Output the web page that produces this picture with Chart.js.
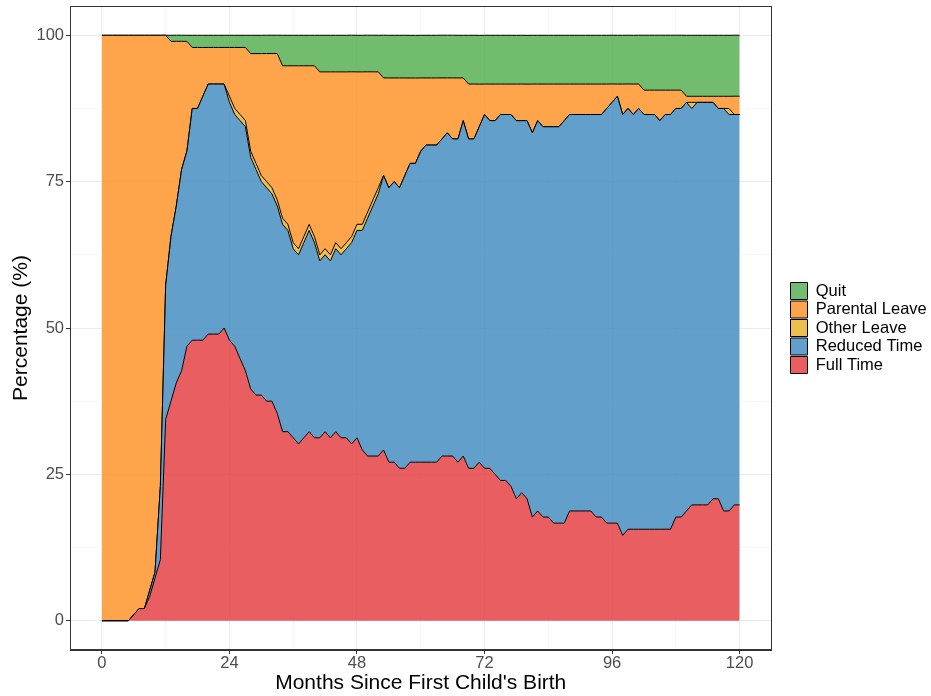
<!DOCTYPE html>
<html>
<head>
<meta charset="utf-8">
<title>Employment status after first birth</title>
<script src="https://cdn.jsdelivr.net/npm/chart.js@4"></script>
<style>
  html,body{margin:0;padding:0;background:#fff;}
  #wrap{width:931px;height:696px;}
</style>
</head>
<body>
<div id="wrap"><canvas id="chart" width="931" height="696"></canvas></div>
<script>
// months since first child's birth
const months = [
  0,1,2,3,4,5,6,7,8,9,10,11,12,13,14,15,16,17,18,19,
  20,21,22,23,24,25,26,27,28,29,30,31,32,33,34,35,36,37,38,39,
  40,41,42,43,44,45,46,47,48,49,50,51,52,53,54,55,56,57,58,59,
  60,61,62,63,64,65,66,67,68,69,70,71,72,73,74,75,76,77,78,79,
  80,81,82,83,84,85,86,87,88,89,90,91,92,93,94,95,96,97,98,99,
  100,101,102,103,104,105,106,107,108,109,110,111,112,113,114,115,116,117,118,119,120
];

// share of mothers in each state (%), one value per month
const fullTime = [
  0,0,0,0,0,0,1.04,2.08,2.08,4.17,
  7.29,10.42,34.38,37.5,40.63,42.71,46.88,47.92,47.92,47.92,
  48.96,48.96,48.96,50,47.92,46.88,44.79,42.71,39.58,38.54,
  38.54,37.5,37.5,35.42,32.29,32.29,31.25,30.21,31.25,32.29,
  31.25,31.25,32.29,31.25,32.29,31.25,31.25,30.21,31.25,29.17,
  28.13,28.13,28.13,29.17,27.08,27.08,26.04,26.04,27.08,27.08,
  27.08,27.08,27.08,27.08,28.13,28.13,28.13,27.08,28.13,26.04,
  26.04,27.08,26.04,26.04,25,23.96,23.96,22.92,20.83,21.88,
  20.83,17.71,18.75,17.71,17.71,16.67,16.67,16.67,18.75,18.75,
  18.75,18.75,18.75,17.71,17.71,16.67,16.67,16.67,14.58,15.63,
  15.63,15.63,15.63,15.63,15.63,15.63,15.63,15.63,17.71,17.71,
  18.75,19.79,19.79,19.79,19.79,20.83,20.83,18.75,18.75,19.79,
  19.79
];
const reducedTime = [
  0,0,0,0,0,0,0,0,0,1.04,
  1.04,12.5,22.92,28.13,30.21,34.38,33.33,39.58,39.58,41.67,
  42.71,42.71,42.71,41.67,40.63,39.58,40.63,41.67,39.58,38.54,
  36.46,36.46,35.42,35.42,35.42,34.38,32.29,32.29,33.33,34.38,
  33.33,30.21,30.21,30.21,31.25,31.25,32.29,34.38,35.42,37.5,
  40.63,42.71,44.79,46.88,46.88,47.92,47.92,50,51.04,51.04,
  53.13,54.17,54.17,54.17,54.17,55.21,54.17,55.21,57.29,56.25,
  56.25,57.29,60.42,59.38,60.42,62.5,62.5,63.54,64.58,63.54,
  64.58,65.63,66.67,66.67,66.67,67.71,67.71,68.75,67.71,67.71,
  67.71,67.71,67.71,68.75,68.75,70.83,71.88,72.92,71.88,71.88,
  70.83,71.88,70.83,70.83,70.83,69.79,70.83,70.83,69.79,69.79,
  69.79,67.71,68.75,68.75,68.75,67.71,66.67,68.75,67.71,66.67,
  66.67
];
const otherLeave = [
  0,0,0,0,0,0,0,0,0,0,
  0,0,0,0,0,0,0,0,0,0,
  0,0,0,0,1.04,1.04,1.04,1.04,1.04,1.04,
  1.04,1.04,1.04,1.04,1.04,1.04,1.04,1.04,1.04,1.04,
  1.04,1.04,1.04,1.04,1.04,1.04,1.04,1.04,1.04,1.04,
  1.04,1.04,1.04,0,0,0,0,0,0,0,
  0,0,0,0,0,0,0,0,0,0,
  0,0,0,0,0,0,0,0,0,0,
  0,0,0,0,0,0,0,0,0,0,
  0,0,0,0,0,0,0,0,0,0,
  0,0,0,0,0,0,0,0,0,0,
  0,1.04,0,0,0,0,0,0,1.04,0,
  0
];
const parentalLeave = [
  100,100,100,100,100,100,98.96,97.92,97.92,94.79,
  91.67,77.08,42.71,33.33,28.13,21.88,18.75,10.42,10.42,8.33,
  6.25,6.25,6.25,6.25,8.33,10.42,11.46,12.5,16.67,18.75,
  20.83,21.88,22.92,25,26.04,27.08,30.21,31.25,29.17,27.08,
  29.17,31.25,30.21,31.25,29.17,30.21,29.17,28.13,26.04,26.04,
  23.96,21.88,19.79,16.67,18.75,17.71,18.75,16.67,14.58,14.58,
  12.5,11.46,11.46,11.46,10.42,9.38,10.42,10.42,7.29,9.38,
  9.38,7.29,5.21,6.25,6.25,5.21,5.21,5.21,6.25,6.25,
  6.25,8.33,6.25,7.29,7.29,7.29,7.29,6.25,5.21,5.21,
  5.21,5.21,5.21,5.21,5.21,4.17,3.13,2.08,5.21,4.17,
  5.21,4.17,4.17,4.17,4.17,5.21,4.17,4.17,3.13,3.13,
  1.04,1.04,1.04,1.04,1.04,1.04,2.08,2.08,2.08,3.13,
  3.13
];
const quit = [
  0,0,0,0,0,0,0,0,0,0,
  0,0,0,1.04,1.04,1.04,1.04,2.08,2.08,2.08,
  2.08,2.08,2.08,2.08,2.08,2.08,2.08,2.08,3.13,3.13,
  3.13,3.13,3.13,3.13,5.21,5.21,5.21,5.21,5.21,5.21,
  5.21,6.25,6.25,6.25,6.25,6.25,6.25,6.25,6.25,6.25,
  6.25,6.25,6.25,7.29,7.29,7.29,7.29,7.29,7.29,7.29,
  7.29,7.29,7.29,7.29,7.29,7.29,7.29,7.29,7.29,8.33,
  8.33,8.33,8.33,8.33,8.33,8.33,8.33,8.33,8.33,8.33,
  8.33,8.33,8.33,8.33,8.33,8.33,8.33,8.33,8.33,8.33,
  8.33,8.33,8.33,8.33,8.33,8.33,8.33,8.33,8.33,8.33,
  8.33,8.33,9.38,9.38,9.38,9.38,9.38,9.38,9.38,9.38,
  10.42,10.42,10.42,10.42,10.42,10.42,10.42,10.42,10.42,10.42,
  10.42
];

// gridlines: labelled (major) and in-between (minor)
const xTicks = [0,12,24,36,48,60,72,84,96,108,120];
const xLabels = [0,24,48,72,96,120];
const yTicks = [0,12.5,25,37.5,50,62.5,75,87.5,100];
const yLabels = [0,25,50,75,100];

const FONT = "'Liberation Sans', Arial, Helvetica, sans-serif";

const series = [
  {label:'Full Time',      data:fullTime,      fill:'origin', bg:'rgba(229,66,69,0.85)'},
  {label:'Reduced Time',   data:reducedTime,   fill:'-1',     bg:'rgba(70,143,194,0.85)'},
  {label:'Other Leave',    data:otherLeave,    fill:'-1',     bg:'rgba(234,181,47,0.85)'},
  {label:'Parental Leave', data:parentalLeave, fill:'-1',     bg:'rgba(254,148,44,0.85)'},
  {label:'Quit',           data:quit,          fill:'-1',     bg:'rgba(89,177,83,0.85)'}
];

function gridStyle(labels){
  const major = c => c.tick && labels.includes(c.tick.value);
  return {
    color: c => major(c) ? '#EBEBEB' : '#F3F3F3',
    lineWidth: c => major(c) ? 1 : 0.6,
    tickColor: c => major(c) ? '#333333' : 'rgba(0,0,0,0)',
    tickLength: 4,
    drawTicks: true
  };
}

// no extra room for edge labels, the panel is sized by hand
function noEdgePadding(s){
  s.paddingTop = 0; s.paddingBottom = 0;
  s.paddingLeft = 0; s.paddingRight = 0;
}

// frame around the plotting panel
const panelBorder = {
  id:'panelBorder',
  afterDatasetsDraw(chart){
    const {ctx, chartArea:a} = chart;
    ctx.save();
    ctx.strokeStyle = '#333333';
    ctx.lineWidth = 1;
    ctx.strokeRect(Math.round(a.left)+0.5, Math.round(a.top)+0.5,
      Math.round(a.right-a.left)-1, Math.round(a.bottom-a.top)-1);
    ctx.restore();
  }
};

new Chart(document.getElementById('chart'), {
  type:'line',
  data:{
    labels:months,
    datasets:series.map(s=>({
      label:s.label, data:s.data, fill:s.fill, yAxisID:'y',
      backgroundColor:s.bg, borderColor:'#000', borderWidth:1,
      pointRadius:0, pointHoverRadius:0, tension:0
    }))
  },
  options:{
    responsive:false, animation:false, devicePixelRatio:1,
    layout:{padding:{top:6, right:0, bottom:0, left:0}},
    plugins:{
      tooltip:{enabled:false},
      legend:{
        position:'right', align:'center', reverse:true, fullSize:false, maxWidth:142,
        labels:{boxWidth:17, boxHeight:17, padding:1.5, color:'#000', font:{family:FONT, size:16.5}}
      }
    },
    scales:{
      x:{
        type:'linear', min:-6, max:126,
        afterBuildTicks: s => { s.ticks = xTicks.map(v=>({value:v})); },
        afterFit: s => { s.height = 46; noEdgePadding(s); },
        ticks:{callback: v => xLabels.includes(v) ? String(v) : '', color:'#4D4D4D', padding:0, maxRotation:0, autoSkip:false, font:{family:FONT, size:16.5}},
        grid:gridStyle(xLabels),
        border:{color:'#333333', width:1},
        title:{display:true, text:"Months Since First Child's Birth", color:'#000', padding:{top:0, bottom:0}, font:{family:FONT, size:21}}
      },
      y:{
        type:'linear', stacked:true, min:-5, max:105,
        afterBuildTicks: s => { s.ticks = yTicks.map(v=>({value:v})); },
        afterFit: s => { s.width = 70; noEdgePadding(s); },
        ticks:{callback: v => yLabels.includes(v) ? String(v) : '', color:'#4D4D4D', padding:2, font:{family:FONT, size:16.5}},
        grid:gridStyle(yLabels),
        border:{color:'#333333', width:1},
        title:{display:true, text:'Percentage (%)', color:'#000', padding:{top:9, bottom:0}, font:{family:FONT, size:21}}
      },
      gap:{
        type:'linear', position:'right', display:true,
        grid:{display:false, drawTicks:false}, border:{display:false},
        ticks:{display:false}, title:{display:false},
        afterFit: s => { s.width = 17.5; noEdgePadding(s); }
      }
    }
  },
  plugins:[panelBorder]
});
</script>
</body>
</html>
